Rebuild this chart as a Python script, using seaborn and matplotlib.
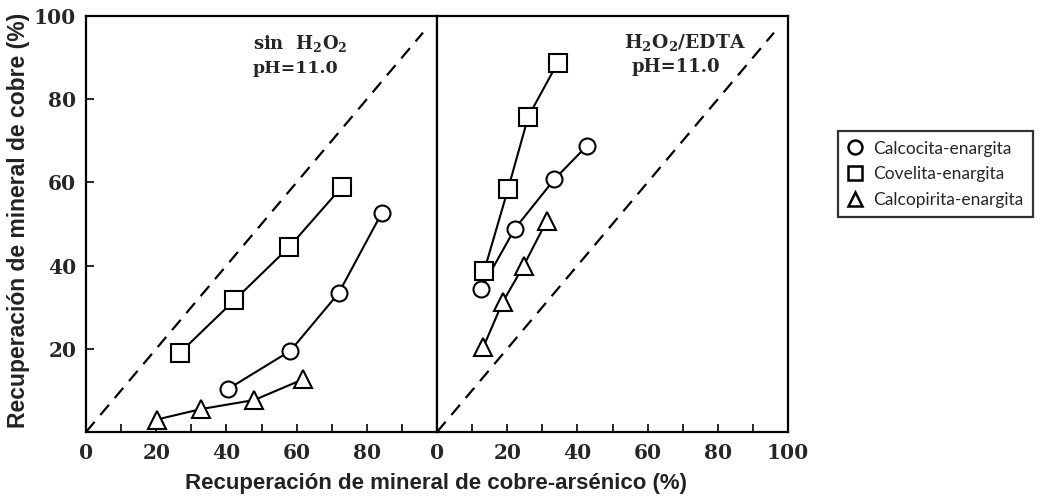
import numpy as np
import pandas as pd
import seaborn as sns
import matplotlib.pyplot as plt
from matplotlib.lines import Line2D

# ---- data ----
series_names = ["Calcocita-enargita", "Covelita-enargita", "Calcopirita-enargita"]
series_markers = ["o", "s", "^"]

sin_calcocita_x = [40.4, 58.2, 72.0, 84.3]
sin_calcocita_y = [10.3, 19.5, 33.4, 52.7]
sin_covelita_x = [26.7, 42.3, 57.8, 73.0]
sin_covelita_y = [19.0, 31.7, 44.4, 59.0]
sin_calcopirita_x = [20.2, 32.7, 48.0, 61.9]
sin_calcopirita_y = [3.0, 5.5, 7.7, 12.7]

edta_calcocita_x = [12.5, 22.2, 33.4, 42.6]
edta_calcocita_y = [34.3, 48.9, 60.7, 68.7]
edta_covelita_x = [13.4, 20.2, 26.0, 34.4]
edta_covelita_y = [38.6, 58.3, 75.8, 88.8]
edta_calcopirita_x = [13.2, 18.7, 24.7, 31.3]
edta_calcopirita_y = [20.4, 31.2, 40.0, 50.8]

diag = [0, 96]

x_major = [0, 20, 40, 60, 80, 100]
y_major = [20, 40, 60, 80, 100]

# ---- style ----
sns.set_style("white")
plt.rcParams["mathtext.fontset"] = "dejavuserif"

TICKFONT = dict(fontfamily="DejaVu Serif", fontweight="bold", fontsize=14.5)

fig = plt.figure(figsize=(10.4, 4.96), dpi=100)
left_w = 351 / 1040
bottom = 1 - 432 / 496
height = (432 - 16) / 496
ax1 = fig.add_axes([86 / 1040, bottom, left_w, height])
ax2 = fig.add_axes([437 / 1040, bottom, left_w, height])

panels = [
    (ax1, [(sin_calcocita_x, sin_calcocita_y), (sin_covelita_x, sin_covelita_y),
           (sin_calcopirita_x, sin_calcopirita_y)]),
    (ax2, [(edta_calcocita_x, edta_calcocita_y), (edta_covelita_x, edta_covelita_y),
           (edta_calcopirita_x, edta_calcopirita_y)]),
]

msizes = {"o": 11.5, "s": 13, "^": 13}

for ax, data in panels:
    sns.lineplot(x=diag, y=diag, ax=ax, color="black", lw=1.6,
                 linestyle=(0, (6, 4)))
    for (xs, ys), mk in zip(data, series_markers):
        df = pd.DataFrame({"x": xs, "y": ys})
        sns.lineplot(data=df, x="x", y="y", ax=ax, color="black", lw=1.5,
                     sort=False, marker=mk, markersize=msizes[mk],
                     markerfacecolor="white", markeredgecolor="black",
                     markeredgewidth=1.5)
    ax.set_xlim(0, 100)
    ax.set_ylim(0, 100)
    ax.set_xlabel("")
    ax.set_ylabel("")
    for s in ax.spines.values():
        s.set_visible(True)
        s.set_color("black")
        s.set_linewidth(1.6)
    ax.set_xticks(x_major)
    ax.set_xticks(np.arange(10, 100, 20), minor=True)
    ax.tick_params(axis="x", which="both", direction="in", length=6, width=1.4,
                   bottom=True, pad=8)

ax1.set_xticklabels(["0", "20", "40", "60", "80", ""], **TICKFONT)
ax2.set_xticklabels(["0", "20", "40", "60", "80", "100"], **TICKFONT)
ax1.set_yticks(y_major)
ax1.set_yticklabels([str(v) for v in y_major], **TICKFONT)
ax1.tick_params(axis="y", which="both", direction="in", length=6, width=1.4,
                left=True, pad=7)
ax2.set_yticks([])

# panel annotations
ax1.text(47.6, 93.5, r"sin  $\mathbf{H_2O_2}$", fontfamily="DejaVu Serif",
         fontweight="bold", fontsize=13, ha="left", va="center")
ax1.text(47.6, 87.3, "pH=11.0", fontfamily="DejaVu Serif",
         fontweight="bold", fontsize=12.5, ha="left", va="center")
ax2.text(70.5, 93.7, r"$\mathbf{H_2O_2}$/EDTA", fontfamily="DejaVu Serif",
         fontweight="bold", fontsize=13.5, ha="center", va="center")
ax2.text(68.0, 87.7, "pH=11.0", fontfamily="DejaVu Serif",
         fontweight="bold", fontsize=13, ha="center", va="center")

# axis labels
fig.text(19 / 1040, 1 - 220 / 496, "Recuperación de mineral de cobre (%)",
         rotation=90, ha="center", va="center", fontfamily="Liberation Sans",
         fontweight="bold", fontsize=16.5, color="#222222")
fig.text(436 / 1040, 1 - 484 / 496, "Recuperación de mineral de cobre-arsénico (%)",
         ha="center", va="center", fontfamily="Liberation Sans",
         fontweight="bold", fontsize=16, color="#222222")

# legend
handles = [Line2D([], [], linestyle="none", marker=mk, markersize=10,
                  markerfacecolor="white", markeredgecolor="black",
                  markeredgewidth=1.8) for mk in series_markers]
leg = fig.legend(handles, series_names, loc="upper left",
                 bbox_to_anchor=(838 / 1040, 1 - 131 / 496),
                 prop={"family": "Lato", "size": 12.5}, frameon=True,
                 fancybox=False, handlelength=0.9, handletextpad=0.55,
                 labelspacing=0.55, borderpad=0.55, borderaxespad=0)
leg.get_frame().set_edgecolor("black")
leg.get_frame().set_linewidth(1.6)

fig.savefig("out.png", dpi=100)
